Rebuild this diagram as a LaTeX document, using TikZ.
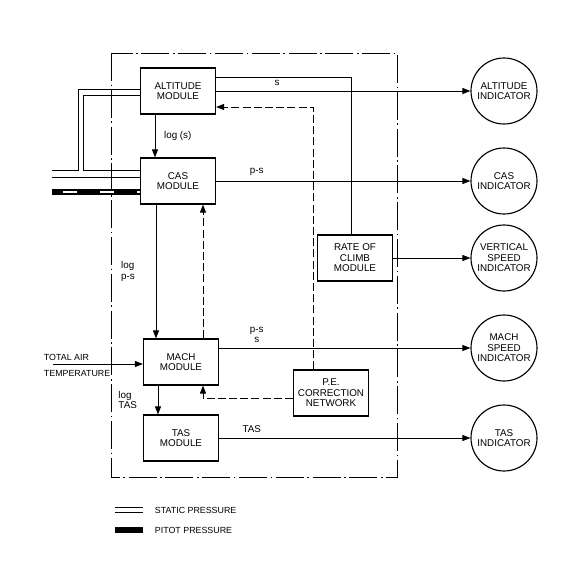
\documentclass[tikz,border=0pt]{standalone}
\usepackage{fontspec}
\setmainfont{Liberation Sans}
\usetikzlibrary{arrows.meta, positioning, calc}

\begin{document}
\begin{tikzpicture}[
		x=0.25mm, y=-0.25mm,
		font=\fontsize{7}{7.4}\selectfont,
		box/.style={
			rectangle,
			draw,
			thick,
			minimum width=18.75mm,
			minimum height=11.5mm,
			align=center,
			inner sep=2pt
		},
		indicator/.style={
			circle,
			draw,
			thick,
			minimum size=16.5mm,
			align=center,
			inner sep=0pt
		},
		arrow/.style={
			-{Triangle[length=2mm, width=1.5mm]},
			semithick
		},
		dasharrow/.style={
			arrow,
			dash pattern=on 2mm off 0.8mm
		},
		pipe/.style={semithick},
		pitot/.style={line width=1.5mm},
		pitotgap/.style={white, line width=0.7mm, dash pattern=on 3.5mm off 5.75mm, dash phase=6.5mm},
		enclosure/.style={thin, dash pattern=on 7mm off 0.9mm on 0.4mm off 0.9mm},
		small/.style={font=\fontsize{6.3}{7}\selectfont}
		]
		\useasboundingbox (0,0) rectangle (569,578);
		
		% enclosure
		\draw[enclosure] (111,53) rectangle (397,477);
		
		% modules
		\node[box] (alt) at (178,91) {ALTITUDE\\MODULE};
		\node[box] (cas) at (178,181) {CAS\\MODULE};
		\node[box] (mach) at (181,362) {MACH\\MODULE};
		\node[box] (tas) at (181,438) {TAS\\MODULE};
		\node[box] (roc) at (355,258) {RATE OF\\CLIMB\\MODULE};
		\node[box] (pe) at (331,393) {P.E.\\CORRECTION\\NETWORK};
		
		% indicators
		\node[indicator] (altind) at (504,91) {ALTITUDE\\INDICATOR};
		\node[indicator] (casind) at (504,181) {CAS\\INDICATOR};
		\node[indicator] (vsi) at (504,258) {VERTICAL\\SPEED\\INDICATOR};
		\node[indicator] (machind) at (504,348) {MACH\\SPEED\\INDICATOR};
		\node[indicator] (tasind) at (504,438) {TAS\\INDICATOR};
		
		% inputs
		\coordinate (static) at (52,170);
		\coordinate (static2) at (52,177);
		\coordinate (pitot) at (52,192);
		\coordinate (tat) at (53,364);
		\node[small, anchor=west] (tatup) at (39,357) {TOTAL AIR};
		\node[small, anchor=west] (tatlow) at (39,373) {TEMPERATURE};
		
		%--
		\draw[pipe] (static) -| ($(alt.west)+(-62,-2)$) -- ($(alt.west)+(0,-2)$);
		\draw[pipe] ($(alt.west)+(0,4)$) -| ($(cas.west)+(-57,-11)$) -- ($(cas.west)+(0,-11)$);
		\draw[pipe] (static2) -- (cas.west |- static2);
		\draw[pitot] (pitot) -- (cas.west |- pitot);
		\draw[pitotgap] (pitot) -- (cas.west |- pitot);
		\draw[arrow] (tat) -- (mach.west |- tat);
		%--
		\draw[arrow] ($(alt.south)+(-23,0)$) -- node[right, xshift=1mm] {log (s)} ($(cas.north)+(-23,0)$);
		\draw[arrow] ($(cas.south)+(-22,0)$) -- node[left, xshift=-4mm, align=left] {log\\p-s} ($(mach.north)+(-25,0)$);
		\draw[arrow] ($(mach.south)+(-23,0)$) -- node[left, xshift=-4mm, align=left] {log\\TAS} ($(tas.north)+(-23,0)$);
		%--
		\draw[dasharrow] ($(mach.north)+(22,0)$) -- ($(cas.south)+(25,0)$);
		\draw[dasharrow] ($(pe.west)+(0,5)$) -| ($(mach.south)+(22,0)$);
		\draw[dasharrow] ($(pe.north)+(-18,0)$) |- ($(alt.east)+(0,16)$);
		\draw[pipe] ($(alt.east)+(0,-14)$) -| ($(roc.north)+(-4,0)$);
		%--
		\draw[arrow] (alt) -- node[pos=0.24, above] {s} (altind);
		\draw[arrow] (cas) -- node[pos=0.16, above] {p-s} (casind);
		\draw[arrow] (roc) -- (vsi);
		\draw[arrow] (mach.east |- machind) -- node[pos=0.15, above, align=center] {p-s\\s} (machind);
		\draw[arrow] (tas) -- node[pos=0.13, above] {TAS} (tasind);
		
		% legend
		\node[small, anchor=west] (staticlbl) at (150,510) {STATIC PRESSURE};
		\node[small, anchor=west] (pitotlbl) at (150,530) {PITOT PRESSURE};
		\draw[pipe, double, double distance=1mm] ($(staticlbl.west)+(-35,0)$) -- ($(staticlbl.west)+(-7,0)$);
		\draw[pitot] ($(pitotlbl.west)+(-35,0)$) -- ($(pitotlbl.west)+(-7,0)$);
		
	\end{tikzpicture}
\end{document}
